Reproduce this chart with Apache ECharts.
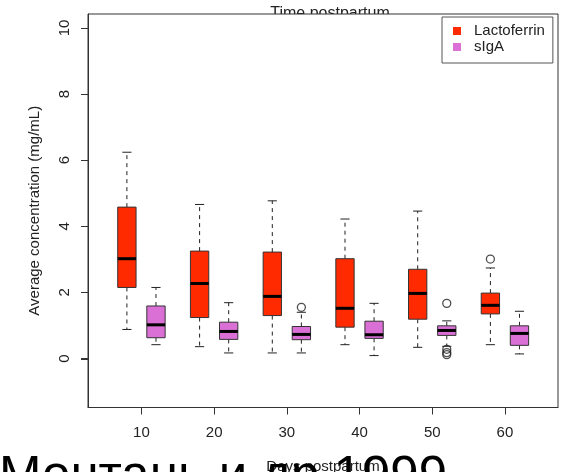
<!DOCTYPE html>
<html>
<head>
<meta charset="utf-8">
<script src="https://cdn.jsdelivr.net/npm/echarts@6/dist/echarts.min.js"></script>
<style>
html,body{margin:0;padding:0;background:#fff;}
#chart{width:577px;height:472px;}
</style>
</head>
<body>
<div id="chart"></div>
<script>
// ---- data ----
const days = [10, 20, 30, 40, 50, 60];
const xTickValues = [10, 20, 30, 40, 50, 60];
const yTickValues = [0, 2, 4, 6, 8, 10];

const lactoMin = [0.88, 0.36, 0.17, 0.42, 0.34, 0.42];
const lactoQ1  = [2.15, 1.24, 1.30, 0.95, 1.19, 1.35];
const lactoMed = [3.02, 2.27, 1.88, 1.52, 1.97, 1.61];
const lactoQ3  = [4.58, 3.25, 3.22, 3.02, 2.70, 1.98];
const lactoMax = [6.24, 4.66, 4.77, 4.22, 4.46, 2.74];
const lactoOutlierDays   = [60];
const lactoOutlierValues = [3.01];

const sigaMin = [0.42, 0.17, 0.17, 0.09, 0.37, 0.14];
const sigaQ1  = [0.63, 0.58, 0.57, 0.61, 0.70, 0.40];
const sigaMed = [1.02, 0.82, 0.73, 0.72, 0.85, 0.76];
const sigaQ3  = [1.59, 1.10, 0.97, 1.13, 0.99, 0.99];
const sigaMax = [2.15, 1.69, 1.40, 1.67, 1.14, 1.43];
const sigaOutlierDays   = [30, 50, 50, 50, 50];
const sigaOutlierValues = [1.55, 1.67, 0.28, 0.18, 0.12];

// ---- layout / style constants ----
const X_MIN = 2.65, X_MAX = 67.3;
const Y_MIN = -1.48, Y_MAX = 10.42;
const OFFSET = 2;      // days shift of each box from its group centre
const BOX_W = 2.52;    // box width in days
const TICK_LEN = 7;
const RED = '#ff2a00';
const ORCHID = '#da70d6';
const GRID = {left: 88, top: 14, right: 19, bottom: 64.5, outerBoundsMode: 'none', containLabel: false};

function buildBoxes(offset, mn, q1, md, q3, mx) {
  return days.map((d, i) => [d + offset, mn[i], q1[i], md[i], q3[i], mx[i]]);
}
function buildOutliers(offset, ds, vs) {
  return ds.map((d, i) => [d + offset, vs[i]]);
}

function renderBox(params, api) {
  const x = api.value(0);
  const pLo = api.coord([x, api.value(1)]);
  const pQ1 = api.coord([x, api.value(2)]);
  const pMed = api.coord([x, api.value(3)]);
  const pQ3 = api.coord([x, api.value(4)]);
  const pHi = api.coord([x, api.value(5)]);
  const w = api.size([BOX_W, 0])[0];
  const cx = pMed[0];
  const color = api.visual('color');
  const dash = {stroke: '#222', lineWidth: 1, lineDash: [4, 4]};
  const solid = {stroke: '#222', lineWidth: 1};
  return {
    type: 'group',
    children: [
      {type: 'line', shape: {x1: cx, y1: pQ3[1], x2: cx, y2: pHi[1]}, style: dash},
      {type: 'line', shape: {x1: cx, y1: pQ1[1], x2: cx, y2: pLo[1]}, style: dash},
      {type: 'line', shape: {x1: cx - w / 4, y1: pHi[1], x2: cx + w / 4, y2: pHi[1]}, style: solid},
      {type: 'line', shape: {x1: cx - w / 4, y1: pLo[1], x2: cx + w / 4, y2: pLo[1]}, style: solid},
      {type: 'rect', shape: {x: cx - w / 2, y: pQ3[1], width: w, height: pQ1[1] - pQ3[1]},
        style: {fill: color, stroke: '#333', lineWidth: 1}},
      {type: 'line', shape: {x1: cx - w / 2, y1: pMed[1], x2: cx + w / 2, y2: pMed[1]},
        style: {stroke: '#000', lineWidth: 3}}
    ]
  };
}

// left-axis tick marks, placed through the y scale
function renderYTick(params, api) {
  const p = api.coord([api.value(0), api.value(1)]);
  const y = Math.round(p[1]) + 0.5;
  return {type: 'line', shape: {x1: p[0] - TICK_LEN, y1: y, x2: p[0], y2: y},
    style: {stroke: '#333', lineWidth: 1}};
}

const chart = echarts.init(document.getElementById('chart'), null, {renderer: 'canvas'});
const FONT = 'Liberation Sans, Arial, Helvetica, sans-serif';

const option = {
  animation: false,
  backgroundColor: '#fff',
  textStyle: {fontFamily: FONT},
  grid: GRID,
  graphic: [
    {type: 'text', z: 0, x: 330, y: 22,
      style: {text: 'Time postpartum', font: '16px ' + FONT, fill: '#222', align: 'center', verticalAlign: 'bottom'}},
    {type: 'rect', z: 1, shape: {x: 88, y: 14, width: 470, height: 393.5},
      style: {fill: '#fff', stroke: '#333', lineWidth: 1}},
    {type: 'text', z: 10, x: -1, y: 452,
      style: {text: 'Монтань и др 1999', font: '51px ' + FONT, fill: '#000', verticalAlign: 'top'}}
  ],
  legend: {
    left: 442, top: 17,
    orient: 'vertical',
    data: ['Lactoferrin', 'sIgA'],
    icon: 'rect',
    itemWidth: 8, itemHeight: 8, itemGap: 0,
    padding: [6, 8, 8, 11],
    borderColor: '#555', borderWidth: 1,
    backgroundColor: '#fff',
    selectedMode: false,
    z: 20,
    textStyle: {fontSize: 15, color: '#222', lineHeight: 16, padding: [0, 0, 0, 8], fontFamily: FONT}
  },
  xAxis: {
    type: 'value',
    min: X_MIN, max: X_MAX,
    z: 5,
    name: 'Days postpartum',
    nameLocation: 'middle',
    nameGap: 52,
    nameTextStyle: {fontSize: 15, color: '#222'},
    axisLine: {show: true, onZero: false, lineStyle: {color: '#333'}},
    splitLine: {show: false},
    axisTick: {show: true, length: TICK_LEN, customValues: xTickValues, lineStyle: {color: '#333', width: 1}},
    axisLabel: {customValues: xTickValues, fontSize: 15, color: '#222', margin: 18}
  },
  yAxis: {
    type: 'value',
    min: Y_MIN, max: Y_MAX,
    z: 5,
    name: 'Average concentration (mg/mL)',
    nameLocation: 'middle',
    nameGap: 46,
    nameTextStyle: {fontSize: 15, color: '#222'},
    axisLine: {show: true, onZero: false, lineStyle: {color: '#333'}},
    splitLine: {show: false},
    axisTick: {show: true, length: TICK_LEN, customValues: yTickValues, lineStyle: {color: '#333', width: 1}},
    axisLabel: {customValues: yTickValues, fontSize: 15, color: '#222', rotate: 90, margin: 16}
  },
  series: [
    {
      name: 'Lactoferrin', type: 'custom', z: 3,
      itemStyle: {color: RED, borderColor: '#333'},
      renderItem: renderBox,
      encode: {x: 0, y: [1, 2, 3, 4, 5]},
      data: buildBoxes(-OFFSET, lactoMin, lactoQ1, lactoMed, lactoQ3, lactoMax)
    },
    {
      name: 'sIgA', type: 'custom', z: 3,
      itemStyle: {color: ORCHID, borderColor: '#333'},
      renderItem: renderBox,
      encode: {x: 0, y: [1, 2, 3, 4, 5]},
      data: buildBoxes(OFFSET, sigaMin, sigaQ1, sigaMed, sigaQ3, sigaMax)
    },
    {
      name: 'Lactoferrin outliers', type: 'scatter', z: 3,
      symbol: 'circle', symbolSize: 8,
      itemStyle: {color: 'rgba(0,0,0,0)', borderColor: '#222', borderWidth: 1.3},
      data: buildOutliers(-OFFSET, lactoOutlierDays, lactoOutlierValues)
    },
    {
      name: 'sIgA outliers', type: 'scatter', z: 3,
      symbol: 'circle', symbolSize: 8,
      itemStyle: {color: 'rgba(0,0,0,0)', borderColor: '#222', borderWidth: 1.3},
      data: buildOutliers(OFFSET, sigaOutlierDays, sigaOutlierValues)
    },
    {
      name: 'y ticks', type: 'custom', z: 6, silent: true, clip: false,
      renderItem: renderYTick,
      encode: {x: 0, y: 1},
      data: yTickValues.map(v => [X_MIN, v])
    }
  ]
};
chart.setOption(option);
</script>
</body>
</html>
